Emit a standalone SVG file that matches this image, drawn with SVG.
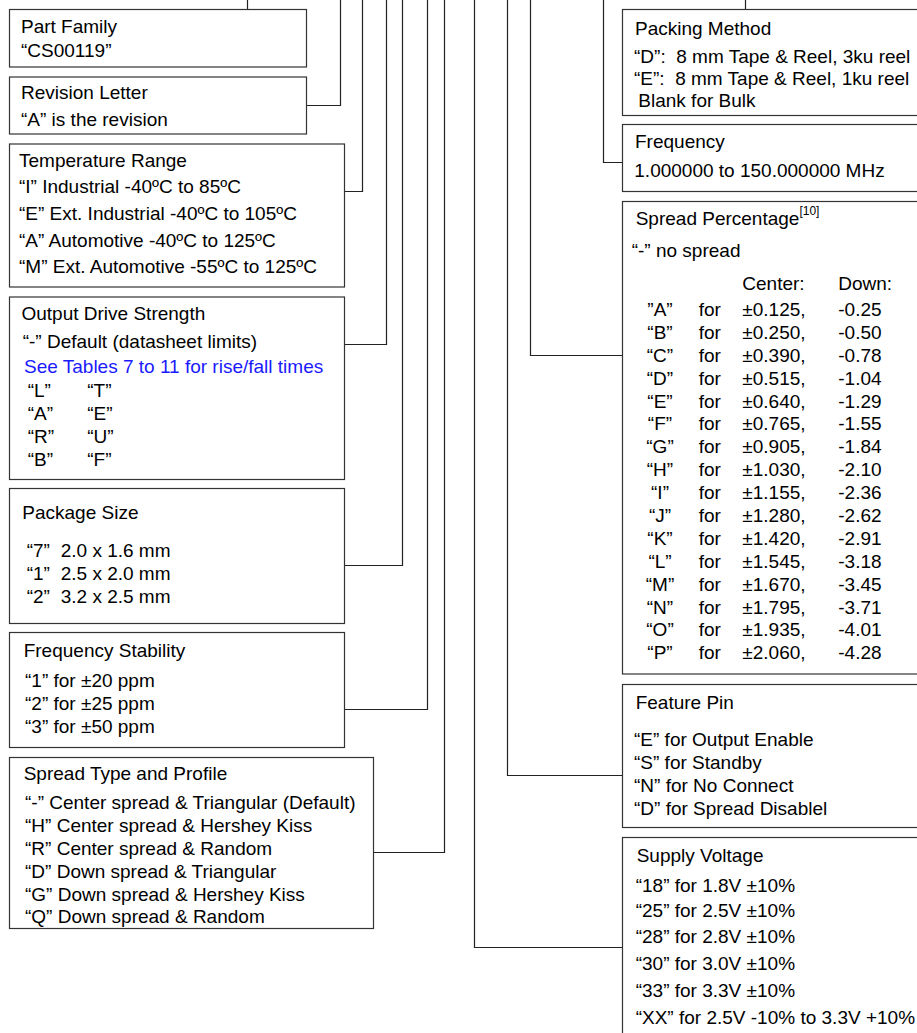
<svg xmlns="http://www.w3.org/2000/svg" width="917" height="1033" viewBox="0 0 917 1033">
<style>
text{font-family:"Liberation Sans",Arial,Helvetica,sans-serif;font-size:19px;fill:#000}
.box{fill:#fff;stroke:#333;stroke-width:1.2}
.con{fill:none;stroke:#222;stroke-width:1.2}
.link{fill:#1a1aff}
.sup{font-size:12px}
.m{text-anchor:middle}
</style>
<rect width="917" height="1033" fill="#fff"/>
<g id="connectors">
<polyline class="con" points="247.5,0 247.5,10"/>
<polyline class="con" points="307,105.5 340.5,105.5 340.5,0"/>
<polyline class="con" points="345,191.5 362.5,191.5 362.5,0"/>
<polyline class="con" points="345,344.5 386.5,344.5 386.5,0"/>
<polyline class="con" points="345,565.5 402.5,565.5 402.5,0"/>
<polyline class="con" points="345,709.5 427.5,709.5 427.5,0"/>
<polyline class="con" points="373.5,852.5 444.5,852.5 444.5,0"/>
<polyline class="con" points="745.5,0 745.5,10"/>
<polyline class="con" points="623,162.5 603.5,162.5 603.5,0"/>
<polyline class="con" points="623,355.5 530.5,355.5 530.5,0"/>
<polyline class="con" points="623,775.5 507.5,775.5 507.5,0"/>
<polyline class="con" points="623,947.5 474.5,947.5 474.5,0"/>
</g>
<g id="part-family">
<rect class="box" x="9.5" y="9.5" width="297" height="57.5"/>
<text x="21" y="32.5">Part Family</text>
<text x="21" y="57">“CS00119”</text>
</g>
<g id="revision-letter">
<rect class="box" x="9.5" y="77" width="297" height="57"/>
<text x="21" y="99">Revision Letter</text>
<text x="21" y="126">“A” is the revision</text>
</g>
<g id="temperature-range">
<rect class="box" x="9.5" y="144" width="335" height="143"/>
<text x="19" y="166.5">Temperature Range</text>
<text x="19" y="193.3">“I” Industrial -40ºC to 85ºC</text>
<text x="19" y="220">“E” Ext. Industrial -40ºC to 105ºC</text>
<text x="19" y="246.7">“A” Automotive -40ºC to 125ºC</text>
<text x="19" y="273.3">“M” Ext. Automotive -55ºC to 125ºC</text>
</g>
<g id="output-drive-strength">
<rect class="box" x="9.5" y="297" width="335" height="182.5"/>
<text x="21.5" y="320">Output Drive Strength</text>
<text x="22.7" y="348.3">“-” Default (datasheet limits)</text>
<text class="link" x="24" y="372.7">See Tables 7 to 11 for rise/fall times</text>
<text y="397.3"><tspan x="27.7">“L”</tspan><tspan x="87.3">“T”</tspan></text>
<text y="420"><tspan x="27.7">“A”</tspan><tspan x="87.3">“E”</tspan></text>
<text y="443.3"><tspan x="27.7">“R”</tspan><tspan x="87.3">“U”</tspan></text>
<text y="466"><tspan x="27.7">“B”</tspan><tspan x="87.3">“F”</tspan></text>
</g>
<g id="package-size">
<rect class="box" x="9.5" y="488.5" width="335" height="135"/>
<text x="22.3" y="519.3">Package Size</text>
<text y="557.3"><tspan x="26.7">“7”</tspan><tspan x="60.7">2.0 x 1.6 mm</tspan></text>
<text y="580"><tspan x="26.7">“1”</tspan><tspan x="60.7">2.5 x 2.0 mm</tspan></text>
<text y="603.3"><tspan x="26.7">“2”</tspan><tspan x="60.7">3.2 x 2.5 mm</tspan></text>
</g>
<g id="frequency-stability">
<rect class="box" x="9.5" y="632.5" width="335" height="115"/>
<text x="23.7" y="656.7">Frequency Stability</text>
<text x="25" y="687.3">“1” for ±20 ppm</text>
<text x="25" y="710">“2” for ±25 ppm</text>
<text x="25" y="733.3">“3” for ±50 ppm</text>
</g>
<g id="spread-type">
<rect class="box" x="9.5" y="757.5" width="364" height="171"/>
<text x="23.7" y="780">Spread Type and Profile</text>
<text x="25" y="809.3">“-” Center spread &amp; Triangular (Default)</text>
<text x="25" y="832">“H” Center spread &amp; Hershey Kiss</text>
<text x="25" y="855.3">“R” Center spread &amp; Random</text>
<text x="25" y="878">“D” Down spread &amp; Triangular</text>
<text x="25" y="900.7">“G” Down spread &amp; Hershey Kiss</text>
<text x="25" y="923.3">“Q” Down spread &amp; Random</text>
</g>
<g id="packing-method">
<rect class="box" x="622.5" y="9.5" width="310" height="106"/>
<text x="635" y="35">Packing Method</text>
<text x="634" y="63.3" xml:space="preserve">“D”:  8 mm Tape &amp; Reel, 3ku reel</text>
<text x="634" y="85" xml:space="preserve">“E”:  8 mm Tape &amp; Reel, 1ku reel</text>
<text x="638.3" y="107.3">Blank for Bulk</text>
</g>
<g id="frequency">
<rect class="box" x="622.5" y="124.5" width="310" height="67"/>
<text x="635" y="147.7">Frequency</text>
<text x="634.3" y="176.7">1.000000 to 150.000000 MHz</text>
</g>
<g id="spread-percentage">
<rect class="box" x="622.5" y="201.5" width="310" height="472.5"/>
<text x="635.7" y="225">Spread Percentage<tspan class="sup" dy="-10">[10]</tspan></text>
<text x="631.7" y="256.7">“-” no spread</text>
<text y="290"><tspan x="742.3">Center:</tspan><tspan x="838.3">Down:</tspan></text>
<text y="316"><tspan class="m" x="660">”A”</tspan><tspan x="698.7">for</tspan><tspan x="742.3">±0.125,</tspan><tspan x="838.3">-0.25</tspan></text>
<text y="338.9"><tspan class="m" x="660">“B”</tspan><tspan x="698.7">for</tspan><tspan x="742.3">±0.250,</tspan><tspan x="838.3">-0.50</tspan></text>
<text y="361.8"><tspan class="m" x="660">“C”</tspan><tspan x="698.7">for</tspan><tspan x="742.3">±0.390,</tspan><tspan x="838.3">-0.78</tspan></text>
<text y="384.7"><tspan class="m" x="660">“D”</tspan><tspan x="698.7">for</tspan><tspan x="742.3">±0.515,</tspan><tspan x="838.3">-1.04</tspan></text>
<text y="407.6"><tspan class="m" x="660">“E”</tspan><tspan x="698.7">for</tspan><tspan x="742.3">±0.640,</tspan><tspan x="838.3">-1.29</tspan></text>
<text y="430.4"><tspan class="m" x="660">“F”</tspan><tspan x="698.7">for</tspan><tspan x="742.3">±0.765,</tspan><tspan x="838.3">-1.55</tspan></text>
<text y="453.3"><tspan class="m" x="660">“G”</tspan><tspan x="698.7">for</tspan><tspan x="742.3">±0.905,</tspan><tspan x="838.3">-1.84</tspan></text>
<text y="476.2"><tspan class="m" x="660">“H”</tspan><tspan x="698.7">for</tspan><tspan x="742.3">±1.030,</tspan><tspan x="838.3">-2.10</tspan></text>
<text y="499.1"><tspan class="m" x="660">“I”</tspan><tspan x="698.7">for</tspan><tspan x="742.3">±1.155,</tspan><tspan x="838.3">-2.36</tspan></text>
<text y="522"><tspan class="m" x="660">“J”</tspan><tspan x="698.7">for</tspan><tspan x="742.3">±1.280,</tspan><tspan x="838.3">-2.62</tspan></text>
<text y="544.9"><tspan class="m" x="660">“K”</tspan><tspan x="698.7">for</tspan><tspan x="742.3">±1.420,</tspan><tspan x="838.3">-2.91</tspan></text>
<text y="567.8"><tspan class="m" x="660">“L”</tspan><tspan x="698.7">for</tspan><tspan x="742.3">±1.545,</tspan><tspan x="838.3">-3.18</tspan></text>
<text y="590.7"><tspan class="m" x="660">“M”</tspan><tspan x="698.7">for</tspan><tspan x="742.3">±1.670,</tspan><tspan x="838.3">-3.45</tspan></text>
<text y="613.6"><tspan class="m" x="660">“N”</tspan><tspan x="698.7">for</tspan><tspan x="742.3">±1.795,</tspan><tspan x="838.3">-3.71</tspan></text>
<text y="636.4"><tspan class="m" x="660">“O”</tspan><tspan x="698.7">for</tspan><tspan x="742.3">±1.935,</tspan><tspan x="838.3">-4.01</tspan></text>
<text y="659.3"><tspan class="m" x="660">“P”</tspan><tspan x="698.7">for</tspan><tspan x="742.3">±2.060,</tspan><tspan x="838.3">-4.28</tspan></text>
</g>
<g id="feature-pin">
<rect class="box" x="622.5" y="684.5" width="310" height="143"/>
<text x="635.7" y="709.3">Feature Pin</text>
<text x="634" y="746">“E” for Output Enable</text>
<text x="634" y="768.7">“S” for Standby</text>
<text x="634" y="791.7">“N” for No Connect</text>
<text x="634" y="814.7">“D” for Spread Disablel</text>
</g>
<g id="supply-voltage">
<rect class="box" x="622.5" y="837.5" width="310" height="210"/>
<text x="636.7" y="861.7">Supply Voltage</text>
<text x="635.7" y="891.7">“18” for 1.8V ±10%</text>
<text x="635.7" y="916.7">“25” for 2.5V ±10%</text>
<text x="635.7" y="943.3">“28” for 2.8V ±10%</text>
<text x="635.7" y="970">“30” for 3.0V ±10%</text>
<text x="635.7" y="996.7">“33” for 3.3V ±10%</text>
<text x="635.7" y="1024.3">“XX” for 2.5V -10% to 3.3V +10%</text>
</g>
</svg>
